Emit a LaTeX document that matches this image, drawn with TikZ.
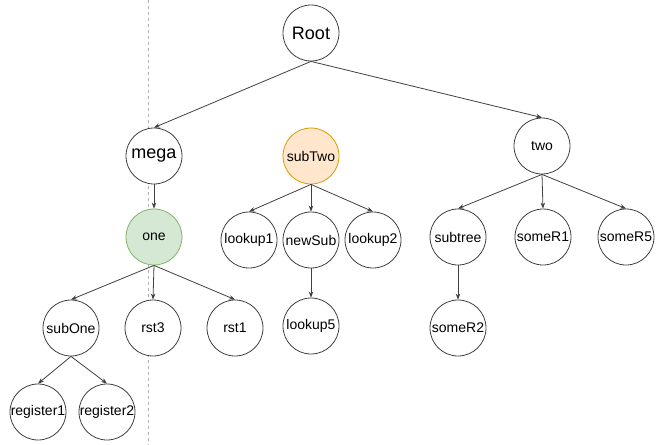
\documentclass[tikz,border=0pt]{standalone}
\usepackage{fontspec}
\setmainfont{Liberation Sans}
\usetikzlibrary{arrows.meta}
\begin{document}
\begin{tikzpicture}[x=1pt,y=-1pt,
    vtx/.style={circle,draw=black!75,fill=white,line width=0.8pt,minimum size=56pt,inner sep=0pt,font=\fontsize{14}{16}\selectfont},
    big/.style={font=\fontsize{18}{20}\selectfont},
    edge/.style={-{Stealth[length=6pt,width=4.5pt]},draw=black!75,line width=0.8pt}]
    \useasboundingbox (0,0) rectangle (657,445);
    \draw[dashed,gray!60,line width=0.8pt] (148,0)--(148,445);

    \node[vtx,big] (root) at (311,33) {Root};
    \node[vtx,big] (mega) at (154,156) {mega};
    \node[vtx,fill={rgb,255:red,255;green,230;blue,204},draw={rgb,255:red,215;green,155;blue,0}] (subTwo) at (311,156) {subTwo};
    \node[vtx] (two) at (542,146) {two};

    \node[vtx,fill={rgb,255:red,213;green,232;blue,212},draw={rgb,255:red,130;green,179;blue,102}] (one) at (154,237) {one};
    \node[vtx] (lookup1) at (249,240) {lookup1};
    \node[vtx] (newSub) at (311,240) {newSub};
    \node[vtx] (lookup2) at (373,240) {lookup2};
    \node[vtx] (subtree) at (458,237) {subtree};
    \node[vtx] (someR1) at (543,237) {someR1};
    \node[vtx] (someR5) at (626,237) {someR5};

    \node[vtx] (subOne) at (71,328) {subOne};
    \node[vtx] (rst3) at (153,328) {rst3};
    \node[vtx] (rst1) at (235,328) {rst1};
    \node[vtx] (lookup5) at (311,326) {lookup5};
    \node[vtx] (someR2) at (458,328) {someR2};

    \node[vtx] (register1) at (38,412) {register1};
    \node[vtx] (register2) at (107,412) {register2};

    \foreach \a/\b in {root/mega,root/two,mega/one,one/subOne,one/rst3,one/rst1,
        subOne/register1,subOne/register2,subTwo/lookup1,subTwo/newSub,subTwo/lookup2,
        newSub/lookup5,two/subtree,two/someR1,two/someR5,subtree/someR2}
        \draw[edge] (\a.south) -- (\b.north);
\end{tikzpicture}
\end{document}
